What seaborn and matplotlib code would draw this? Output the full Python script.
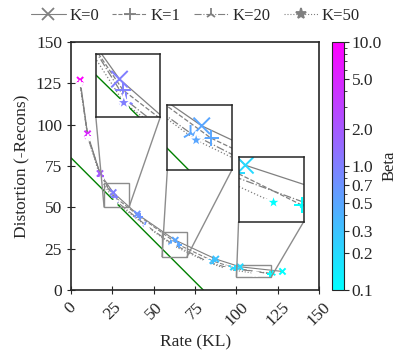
import matplotlib
matplotlib.use("Agg")
import matplotlib.pyplot as plt
import seaborn as sns
import numpy as np
import pandas as pd
from matplotlib.colors import LogNorm
from matplotlib.cm import ScalarMappable
from mpl_toolkits.axes_grid1.inset_locator import mark_inset

betas = [10.0, 5.0, 2.0, 1.0, 0.7, 0.5, 0.3, 0.2, 0.1]
ks = ["K=0", "K=1", "K=20", "K=50"]

rate_k0 = [5.5, 10.0, 17.5, 25.5, 40.0, 63.0, 87.5, 102.2, 127.8]
dist_k0 = [127.0, 94.5, 70.5, 59.0, 46.0, 30.2, 18.8, 14.1, 11.3]
rate_k1 = [5.3, 10.2, 18.0, 26.3, 41.5, 65.1, 86.0, 99.3, 120.5]
dist_k1 = [126.0, 93.0, 69.0, 56.4, 44.5, 27.4, 17.5, 13.3, 9.8]
rate_k20 = [5.6, 10.0, 18.5, 27.0, 45.0, 60.4, 83.5, 96.0, 122.0]
dist_k20 = [125.0, 92.5, 68.0, 54.0, 39.5, 28.5, 16.8, 13.2, 10.0]
rate_k50 = [5.4, 10.3, 18.0, 26.5, 46.0, 61.7, 82.1, 94.2, 111.3]
dist_k50 = [124.5, 92.0, 67.0, 53.4, 38.3, 26.9, 17.1, 12.7, 10.1]

bound_rate = [0, 80]
bound_dist = [80, 0]

rates = [rate_k0, rate_k1, rate_k20, rate_k50]
dists = [dist_k0, dist_k1, dist_k20, dist_k50]
markers = ["x", "+", "2", "*"]
styles = ["-", "--", "-.", ":"]

rows = []
for k, r, d in zip(ks, rates, dists):
    for b, ri, di in zip(betas, r, d):
        rows.append({"K": k, "beta": b, "rate": ri, "dist": di})
df = pd.DataFrame(rows)

sns.set_style("ticks")
plt.rcParams["font.family"] = ["Liberation Serif", "DejaVu Serif"]
plt.rcParams["mathtext.fontset"] = "stix"
fs = 12.5

norm = LogNorm(vmin=0.1, vmax=10)
cmap = plt.get_cmap("cool")

fig = plt.figure(figsize=(3.99, 3.56), dpi=100)
ax = fig.add_axes([0.178, 0.185, 0.622, 0.697])
cax = fig.add_axes([0.832, 0.185, 0.03, 0.697])


def draw(a, msize, lw):
    for k, mk, ls in zip(ks, markers, styles):
        sub = df[df["K"] == k]
        a.plot(sub["rate"], sub["dist"], color="gray", ls=ls, lw=lw, zorder=1)
        sns.scatterplot(data=sub, x="rate", y="dist", hue="beta", hue_norm=norm,
                        palette="cool", marker=mk, s=msize, linewidth=1.4,
                        legend=False, ax=a, zorder=2)
    a.plot(bound_rate, bound_dist, color="green", lw=1.0, zorder=1)


draw(ax, 20, 0.8)
ax.set_xlim(0, 150)
ax.set_ylim(0, 150)
ax.set_xticks(np.arange(0, 151, 25))
ax.set_yticks(np.arange(0, 151, 25))
ax.tick_params(axis="x", rotation=45, labelsize=fs, direction="inout", length=6)
ax.tick_params(axis="y", labelsize=fs, direction="inout", length=6)
for lab in ax.get_xticklabels():
    lab.set_ha("center")
ax.set_xlabel("Rate (KL)", fontsize=fs)
ax.set_ylabel("Distortion (-Recons)", fontsize=fs)
for sp in ax.spines.values():
    sp.set_linewidth(1.2)

insets = [
    ([0.10, 0.698, 0.26, 0.254], (20, 35), (50, 65)),
    ([0.388, 0.484, 0.26, 0.262], (55, 70), (20, 35)),
    ([0.675, 0.275, 0.262, 0.262], (100, 121), (8, 15)),
]
for pos, xl, yl in insets:
    axins = ax.inset_axes(pos)
    draw(axins, 140, 0.9)
    axins.set_xlim(*xl)
    axins.set_ylim(*yl)
    axins.set_xticks([])
    axins.set_yticks([])
    axins.set_xlabel("")
    axins.set_ylabel("")
    for sp in axins.spines.values():
        sp.set_edgecolor("0.15")
        sp.set_linewidth(1.1)
    mark_inset(ax, axins, loc1=3, loc2=4, fc="none", ec="0.55", lw=1.0)

sm = ScalarMappable(norm=norm, cmap=cmap)
cb = fig.colorbar(sm, cax=cax)
cb_ticks = [0.1, 0.2, 0.3, 0.5, 0.7, 1.0, 2.0, 5.0, 10.0]
cb.set_ticks(cb_ticks)
cb.set_ticklabels(["%.1f" % t for t in cb_ticks])
cb.ax.tick_params(labelsize=12.5, pad=2)
cb.set_label("Beta", fontsize=12, labelpad=0)

handles = []
for k, mk, ls in zip(ks, markers, styles):
    h, = ax.plot([], [], color="gray", ls=ls, lw=0.8, marker=mk, markersize=8,
                 markeredgewidth=1.3, label=k)
    handles.append(h)
fig.legend(handles=handles, loc="center", bbox_to_anchor=(0.49, 0.955), ncol=4,
           frameon=False, fontsize=12, handlelength=2.1, columnspacing=0.8,
           handletextpad=0.2)

fig.savefig("out.png", dpi=100)
